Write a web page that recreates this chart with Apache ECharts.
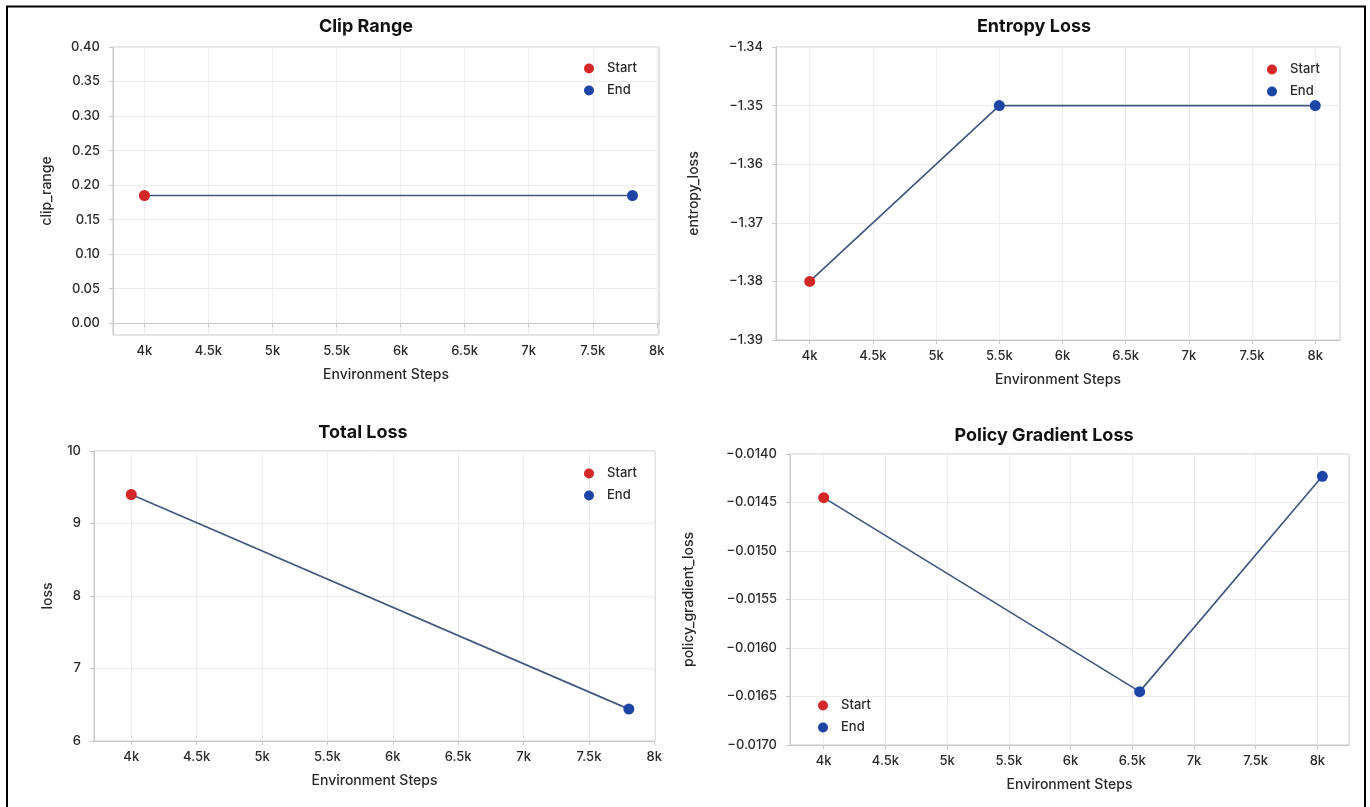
<!DOCTYPE html>
<html>
<head>
<meta charset="utf-8">
<script src="https://cdn.jsdelivr.net/npm/echarts@6/dist/echarts.min.js"></script>
<style>
html,body{margin:0;padding:0;background:#fff;}
#c{width:1370px;height:807px;}
</style>
</head>
<body>
<div id="c"></div>
<script>
// ---- data ----
const xTicks = [4000, 4500, 5000, 5500, 6000, 6500, 7000, 7500, 8000];

const clipSteps = [4000, 7810];
const clipValues = [0.185, 0.185];
const clipTicks = [0, 0.05, 0.10, 0.15, 0.20, 0.25, 0.30, 0.35, 0.40];

const entropySteps = [4000, 5500, 8000];
const entropyValues = [-1.38, -1.35, -1.35];
const entropyTicks = [-1.39, -1.38, -1.37, -1.36, -1.35, -1.34];

const lossSteps = [4000, 7805];
const lossValues = [9.4, 6.44];
const lossTicks = [6, 7, 8, 9, 10];

const pgSteps = [4000, 6560, 8040];
const pgValues = [-0.01445, -0.01645, -0.01423];
const pgTicks = [-0.0170, -0.0165, -0.0160, -0.0155, -0.0150, -0.0145, -0.0140];

const titles = ['Clip Range', 'Entropy Loss', 'Total Loss', 'Policy Gradient Loss'];
const yNames = ['clip_range', 'entropy_loss', 'loss', 'policy_gradient_loss'];
const xName = 'Environment Steps';
const legendNames = ['Start', 'End'];

// ---- layout / style ----
const FONT = 'Inter, "Noto Sans", sans-serif';
const TXT = '#2a2a2a';
const AX = '#c8c8c8';
const GRIDC = '#ececec';
const LINEC = '#42587e';
const RED = '#d42828';
const BLUE = '#1d45a6';

const panels = [
  {steps: clipSteps, values: clipValues, yTicks: clipTicks, ymin: -0.017, ymax: 0.40, dec: 2,
   grid: {left: 113, top: 47, width: 546, height: 288}, xmin: 3755, xmax: 8017, nameGap: 59,
   title: [366, 27], legend: [584, 62]},
  {steps: entropySteps, values: entropyValues, yTicks: entropyTicks, ymin: -1.39, ymax: -1.34, dec: 2,
   grid: {left: 776, top: 47, width: 564, height: 293}, xmin: 3733, xmax: 8196, nameGap: 75,
   title: [1034, 27], legend: [1267, 63]},
  {steps: lossSteps, values: lossValues, yTicks: lossTicks, ymin: 6, ymax: 10, dec: 0,
   grid: {left: 94, top: 451, width: 561, height: 290}, xmin: 3715, xmax: 8005, nameGap: 39,
   title: [363, 433], legend: [584, 467]},
  {steps: pgSteps, values: pgValues, yTicks: pgTicks, ymin: -0.017, ymax: -0.014, dec: 4,
   grid: {left: 790, top: 454, width: 559, height: 291}, xmin: 3727, xmax: 8256, nameGap: 94,
   title: [1044, 436], legend: [818, 699]}
];

function fmtNum(v, dec) {
  const s = Math.abs(v).toFixed(dec);
  return (v < 0 ? '\u2212' : '') + s;
}

const grids = [], xAxes = [], yAxes = [], series = [], legends = [], graphics = [];

panels.forEach((p, i) => {
  grids.push(Object.assign({show: true, borderColor: AX, borderWidth: 1, containLabel: false}, p.grid));
  xAxes.push({
    type: 'value', gridIndex: i, min: p.xmin, max: p.xmax,
    name: xName, nameLocation: 'middle', nameGap: 33,
    nameTextStyle: {fontFamily: FONT, fontSize: 14, fontWeight: 500, color: TXT},
    axisLine: {show: true, lineStyle: {color: AX, width: 1}},
    axisTick: {show: true, length: 4, lineStyle: {color: AX}, customValues: xTicks},
    axisLabel: {fontFamily: FONT, fontSize: 13, fontWeight: 500, color: TXT, margin: 10, customValues: xTicks,
      formatter: v => (v / 1000) + 'k'},
    splitLine: {show: true, lineStyle: {color: GRIDC, width: 1}}
  });
  yAxes.push({
    type: 'value', gridIndex: i, min: p.ymin, max: p.ymax,
    name: yNames[i], nameLocation: 'middle', nameGap: p.nameGap, nameRotate: 90,
    nameTextStyle: {fontFamily: FONT, fontSize: 14, fontWeight: 500, color: TXT},
    axisLine: {show: true, lineStyle: {color: AX, width: 1}},
    axisTick: {show: true, length: 4, lineStyle: {color: AX}, customValues: p.yTicks},
    axisLabel: {fontFamily: FONT, fontSize: 13, fontWeight: 500, color: TXT, margin: 13, customValues: p.yTicks,
      formatter: v => fmtNum(v, p.dec)},
    splitLine: {show: true, lineStyle: {color: GRIDC, width: 1}}
  });
  const pts = p.steps.map((s, k) => [s, p.values[k]]);
  series.push({
    type: 'line', name: 'trend' + i, xAxisIndex: i, yAxisIndex: i, data: pts,
    showSymbol: false, symbol: 'none', silent: true, z: 2,
    lineStyle: {color: LINEC, width: 1.7}
  });
  series.push({
    type: 'scatter', name: 'Start', xAxisIndex: i, yAxisIndex: i, data: pts.slice(0, 1),
    symbolSize: 11, itemStyle: {color: RED, opacity: 1}, z: 3
  });
  series.push({
    type: 'scatter', name: 'End', xAxisIndex: i, yAxisIndex: i, data: pts.slice(1),
    symbolSize: 11, itemStyle: {color: BLUE, opacity: 1}, z: 3
  });
  legends.push({
    data: legendNames, orient: 'vertical', left: p.legend[0], top: p.legend[1],
    padding: 0, itemGap: 9, itemWidth: 10, itemHeight: 10, icon: 'circle',
    selectedMode: false,
    textStyle: {fontFamily: FONT, fontSize: 13, fontWeight: 500, color: TXT, padding: [0, 0, 0, 8]}
  });
  graphics.push({
    type: 'text', x: p.title[0], y: p.title[1],
    style: {text: titles[i], font: 'bold 18px ' + FONT, fill: '#111',
      align: 'center', verticalAlign: 'middle', textAlign: 'center', textVerticalAlign: 'middle'}
  });
});

graphics.push({
  type: 'rect', shape: {x: 7, y: 6.5, width: 1358, height: 900},
  style: {fill: 'none', stroke: '#000', lineWidth: 2}, silent: true, z: 100
});

const chart = echarts.init(document.getElementById('c'), null, {renderer: 'canvas'});
chart.setOption({
  backgroundColor: '#fff',
  animation: false,
  grid: grids, xAxis: xAxes, yAxis: yAxes, series: series, legend: legends,
  graphic: graphics
});
</script>
</body>
</html>
